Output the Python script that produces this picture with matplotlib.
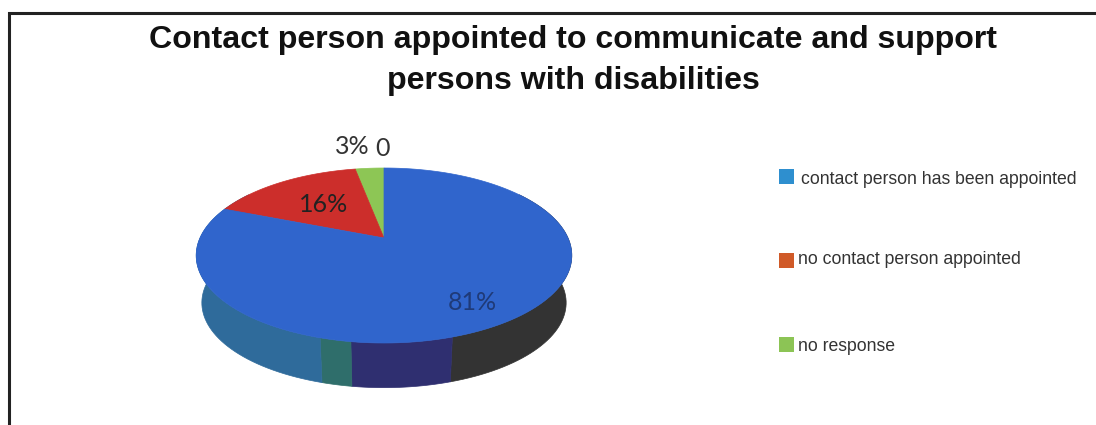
import numpy as np
import matplotlib
matplotlib.use("Agg")
import matplotlib.pyplot as plt
from matplotlib.patches import Polygon, Rectangle

title = "Contact person appointed to communicate and support\npersons with disabilities"

# pie slices, clockwise starting from 12 o'clock
slice_names = ["no response", "no contact person appointed", "contact person has been appointed"]
slice_values = [3, 16, 81]
slice_colors = ["#8DC655", "#CC2E2B", "#3065CC"]
slice_labels = ["3%", "16%", "81%"]

# legend is in a different order and colours than the pie
legend_names = ["contact person has been appointed", "no contact person appointed", "no response"]
legend_colors = ["#2E8FCF", "#D05A28", "#8CC455"]

# bands on the rim, degrees clockwise from the front of the pie
rim_edges = [-125, -17.5, 8.3, 16.3, 125]
rim_colors = ["#333333", "#2F2F70", "#2F6E6B", "#2F6B9B"]

# projection of the tilted disc to pixels
apex_x, apex_y = 384, 238
sx, sy, k = 184, 84, 0.2
depth, shrink = 47.8, 0.97


def project(angle):
    # angle in degrees clockwise from back of the pie
    t = np.radians(angle)
    x = np.sin(t)
    y = np.cos(t)
    w = 1 + k * y
    return apex_x + sx * x / w, apex_y - sy * y / w


def project_low(angle):
    x, y = project(angle)
    return apex_x + (x - apex_x) * shrink, apex_y + (y - apex_y) * shrink + depth


fig = plt.figure(figsize=(10.96, 4.25), dpi=100)
ax = fig.add_axes([0, 0, 1, 1])
ax.set_xlim(0, 1096)
ax.set_ylim(425, 0)
ax.axis("off")

# frame
ax.plot([9.3, 9.3, 1096], [425, 12.5, 12.5], color="#222222", lw=2.2, solid_joinstyle="miter")

ax.text(573, 60.5, title, ha="center", va="center", fontsize=23.1, fontweight="bold",
        family="Liberation Sans", color="#111111", linespacing=1.5)

# rim first, the top covers the hidden part
for i, c in enumerate(rim_colors):
    a = np.linspace(180 + rim_edges[i], 180 + rim_edges[i + 1], 60)
    tx, ty = project(a)
    bx, by = project_low(a)
    pts = np.column_stack([np.r_[tx, bx[::-1]], np.r_[ty, by[::-1]]])
    ax.add_patch(Polygon(pts, closed=True, fc=c, ec=c, lw=0.5))

# top of the pie, slices run counter-clockwise from 12 o'clock
start = 0
for v, c in zip(slice_values, slice_colors):
    a = -np.linspace(start, start + v, 150) * 3.6
    x, y = project(a)
    pts = np.column_stack([np.r_[apex_x, x], np.r_[apex_y, y]])
    ax.add_patch(Polygon(pts, closed=True, fc=c, ec=c, lw=0.5))
    start += v

label_xy = [(352, 146), (324, 204), (472, 302)]
label_colors = ["#333333", "#222222", "#1F3A78"]
for s, (x, y), c in zip(slice_labels, label_xy, label_colors):
    ax.text(x, y, s, ha="center", va="center", fontsize=18, family="Lato", color=c)
ax.text(383, 148, "0", ha="center", va="center", fontsize=18, family="Lato", color="#333333")

legend_y = [177, 261, 345]
legend_text_x = [801, 798, 798]
text_y = [179.5, 259.5, 346.5]
for name, c, y, tx, ty in zip(legend_names, legend_colors, legend_y, legend_text_x, text_y):
    ax.add_patch(Rectangle((779, y - 8), 15, 15, fc=c, ec="none"))
    ax.text(tx, ty, name, ha="left", va="center", fontsize=12.7, family="Liberation Sans", color="#333333")

fig.savefig("out.png", dpi=100)
